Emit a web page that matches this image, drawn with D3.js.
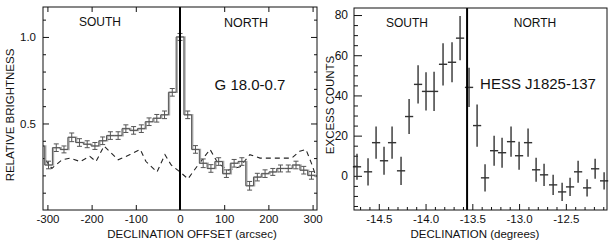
<!DOCTYPE html>
<html>
<head>
<meta charset="utf-8">
<script src="https://cdn.jsdelivr.net/npm/d3@7"></script>
<style>
  body { margin: 0; background: #fff; }
  svg text { font-family: "Liberation Sans", Arial, sans-serif; fill: #111; }
</style>
</head>
<body>
<svg id="chart"></svg>
<script>
// ---- left panel: G 18.0-0.7 radio profile ----
var binWidth = 17.5;
var offsets = [-315, -297.5, -280, -262.5, -245, -227.5, -210, -192.5, -175, -157.5, -140,
    -122.5, -105, -87.5, -70, -52.5, -35, -17.5, 0, 17.5, 35, 52.5, 70, 87.5, 105,
    122.5, 140, 157.5, 175, 192.5, 210, 227.5, 245, 262.5, 280, 297.5];
var brightness = [0.37, 0.26, 0.36, 0.35, 0.42, 0.39, 0.38, 0.37, 0.40, 0.43, 0.43,
    0.47, 0.46, 0.47, 0.51, 0.53, 0.55, 0.68, 1.00, 0.55, 0.35, 0.27, 0.24, 0.28, 0.21,
    0.27, 0.28, 0.14, 0.19, 0.21, 0.22, 0.24, 0.24, 0.26, 0.23, 0.20];
var brightErr = [0, 0.022, 0.022, 0.02, 0.025, 0.022, 0.02, 0.02, 0.022, 0.022, 0.022,
    0.022, 0.022, 0.022, 0.022, 0.022, 0.022, 0.022, 0.02, 0.022, 0.022, 0.025, 0.022, 0.022, 0.022,
    0.022, 0.022, 0.025, 0.022, 0.022, 0.02, 0.02, 0.02, 0.022, 0.022, 0.022];
var dashOffsets = [-305, -290, -267, -249, -226, -204, -190, -172, -140, -113, -90, -77,
    -52, -34, -20, 0, 18, 38, 68, 86, 109, 136, 158, 181, 215, 253, 271, 285, 299, 308];
var dashValues = [0.29, 0.24, 0.29, 0.30, 0.28, 0.31, 0.28, 0.37, 0.29, 0.32, 0.35, 0.28,
    0.22, 0.32, 0.26, 0.22, 0.18, 0.25, 0.35, 0.27, 0.23, 0.25, 0.32, 0.30, 0.30, 0.30,
    0.34, 0.35, 0.26, 0.19];
var leftXTicks = [-300, -200, -100, 0, 100, 200, 300];
var leftYTicks = [0.5, 1.0];
var leftYMinor = [0.1, 0.2, 0.3, 0.4, 0.6, 0.7, 0.8, 0.9, 1.1];

// ---- right panel: HESS J1825-137 excess counts ----
var declination = [-14.733, -14.615, -14.529, -14.444, -14.358, -14.262, -14.176, -14.080,
    -13.995, -13.909, -13.813, -13.717, -13.631, -13.535, -13.449, -13.364, -13.267, -13.182,
    -13.086, -13.000, -12.904, -12.818, -12.733, -12.636, -12.540, -12.455, -12.369, -12.273,
    -12.187, -12.091];
var counts = [4.5, 2, 16.5, 7.5, 16.5, 2.5, 29.5, 45.5, 42, 42, 55.5, 56.5, 68.5, 44,
    25, -1, 12.5, 11.5, 17, 10, 16.5, 3, 0.5, -4.5, -8, -5.5, 2, -6, 3.5, -2.5];
var countErr = [6.5, 6.75, 8, 7, 8, 7, 8.75, 9.5, 9.5, 9.75, 10.5, 10, 11, 9.75,
    10.5, 6.75, 7.5, 7.5, 7.5, 7, 7, 6, 5.5, 5, 4.5, 4.5, 5.5, 4.25, 5, 4.25];
var rightXTicks = [-14.5, -14.0, -13.5, -13.0, -12.5];
var rightXMinor = [-14.7, -14.6, -14.4, -14.3, -14.2, -14.1, -13.9, -13.8, -13.7, -13.6,
    -13.4, -13.3, -13.2, -13.1, -12.9, -12.8, -12.7, -12.6, -12.4, -12.3, -12.2, -12.1];
var rightYTicks = [0, 20, 40, 60, 80];
var rightYMinor = [-15, -10, -5, 5, 10, 15, 25, 30, 35, 45, 50, 55, 65, 70, 75];
var dividerDec = -13.556;

var svg = d3.select("#chart").attr("width", 616).attr("height", 242);

function frame(g, x, y) {
    g.append("rect")
        .attr("x", x.range()[0]).attr("y", y.range()[1])
        .attr("width", x.range()[1] - x.range()[0])
        .attr("height", y.range()[0] - y.range()[1])
        .attr("fill", "none").attr("stroke", "#111").attr("stroke-width", 1);
}
function cleanAxis(sel, size) {
    sel.select(".domain").remove();
    sel.selectAll("text").style("font-size", size + "px").attr("fill", "#111");
    sel.selectAll("line").attr("stroke", "#111");
}

// ============ LEFT ============
var x1 = d3.scaleLinear().domain([-310, 310]).range([43, 317]);
var y1 = d3.scaleLinear().domain([0, 1.173]).range([210, 7]);
var gl = svg.append("g");

gl.append("clipPath").attr("id", "clipL").append("rect")
    .attr("x", 43).attr("y", 7).attr("width", 274).attr("height", 203);

gl.append("g").attr("transform", "translate(0,210)")
    .call(d3.axisBottom(x1).tickValues(leftXTicks).tickFormat(function(d){ return String(d); })
        .tickSizeInner(-5).tickSizeOuter(0).tickPadding(5))
    .call(cleanAxis, 11.5);
gl.append("g").attr("transform", "translate(0,7)")
    .call(d3.axisTop(x1).tickValues(leftXTicks).tickFormat("").tickSizeInner(-5).tickSizeOuter(0))
    .call(cleanAxis, 11);
gl.append("g").attr("transform", "translate(43,0)")
    .call(d3.axisLeft(y1).tickValues(leftYTicks).tickFormat(d3.format(".1f"))
        .tickSizeInner(-6).tickSizeOuter(0).tickPadding(7))
    .call(cleanAxis, 11.5);
gl.append("g").attr("transform", "translate(43,0)")
    .call(d3.axisLeft(y1).tickValues(leftYMinor).tickFormat("").tickSizeInner(-3).tickSizeOuter(0))
    .call(cleanAxis, 11);
gl.append("g").attr("transform", "translate(317,0)")
    .call(d3.axisRight(y1).tickValues(leftYTicks).tickFormat("").tickSizeInner(-6).tickSizeOuter(0))
    .call(cleanAxis, 11);
gl.append("g").attr("transform", "translate(317,0)")
    .call(d3.axisRight(y1).tickValues(leftYMinor).tickFormat("").tickSizeInner(-3).tickSizeOuter(0))
    .call(cleanAxis, 11);

var plotL = gl.append("g").attr("clip-path", "url(#clipL)");

// dashed comparison profile
plotL.append("path")
    .datum(dashOffsets.map(function(d, i){ return [d, dashValues[i]]; }))
    .attr("fill", "none").attr("stroke", "#222").attr("stroke-width", 1.1)
    .attr("stroke-dasharray", "5,4")
    .attr("d", d3.line().x(function(d){ return x1(d[0]); }).y(function(d){ return y1(d[1]); }));

// histogram steps (grey double line look)
var steps = [];
offsets.forEach(function(c, i) {
    steps.push([c - binWidth / 2, brightness[i]]);
    steps.push([c + binWidth / 2, brightness[i]]);
});
var stepLine = d3.line().x(function(d){ return x1(d[0]); }).y(function(d){ return y1(d[1]); });
plotL.append("path").datum(steps)
    .attr("fill", "none").attr("stroke", "#aaa").attr("stroke-width", 1.6)
    .attr("transform", "translate(1,0)")
    .attr("d", stepLine);
plotL.append("path").datum(steps)
    .attr("fill", "none").attr("stroke", "#555").attr("stroke-width", 1)
    .attr("d", stepLine);

// error bars
var eb = plotL.selectAll(".eb").data(offsets.map(function(c, i){
        return {x: c, v: brightness[i], e: brightErr[i]}; })
        .filter(function(d){ return d.e > 0; }))
    .enter().append("g").attr("class", "eb")
    .attr("stroke", "#555").attr("stroke-width", 1);
eb.append("line")
    .attr("x1", function(d){ return x1(d.x); }).attr("x2", function(d){ return x1(d.x); })
    .attr("y1", function(d){ return y1(d.v - d.e); }).attr("y2", function(d){ return y1(d.v + d.e); });
eb.append("line")
    .attr("x1", function(d){ return x1(d.x) - 2.5; }).attr("x2", function(d){ return x1(d.x) + 2.5; })
    .attr("y1", function(d){ return y1(d.v - d.e); }).attr("y2", function(d){ return y1(d.v - d.e); });
eb.append("line")
    .attr("x1", function(d){ return x1(d.x) - 2.5; }).attr("x2", function(d){ return x1(d.x) + 2.5; })
    .attr("y1", function(d){ return y1(d.v + d.e); }).attr("y2", function(d){ return y1(d.v + d.e); });

// zero line
gl.append("line")
    .attr("x1", x1(0)).attr("x2", x1(0)).attr("y1", y1.range()[0]).attr("y2", y1.range()[1])
    .attr("stroke", "#000").attr("stroke-width", 2);
frame(gl, x1, y1);

gl.append("text").attr("x", 100).attr("y", 26).attr("text-anchor", "middle")
    .style("font-size", "12px").text("SOUTH");
gl.append("text").attr("x", 246).attr("y", 27).attr("text-anchor", "middle")
    .style("font-size", "12.5px").text("NORTH");
gl.append("text").attr("x", 250).attr("y", 90).attr("text-anchor", "middle")
    .style("font-size", "15px").text("G 18.0-0.7");
gl.append("text").attr("x", 192).attr("y", 238).attr("text-anchor", "middle")
    .style("font-size", "11.5px").text("DECLINATION OFFSET (arcsec)");
gl.append("text").attr("transform", "translate(14,115) rotate(-90)").attr("text-anchor", "middle")
    .style("font-size", "11.5px").text("RELATIVE BRIGHTNESS");

// ============ RIGHT ============
var x2 = d3.scaleLinear().domain([-14.765, -12.06]).range([354, 607]);
var y2 = d3.scaleLinear().domain([-17, 83.5]).range([210, 8]);
var gr = svg.append("g");

gr.append("g").attr("transform", "translate(0,210)")
    .call(d3.axisBottom(x2).tickValues(rightXTicks).tickFormat(function(d){ return d.toFixed(1); })
        .tickSizeInner(-6).tickSizeOuter(0).tickPadding(5))
    .call(cleanAxis, 11.5);
gr.append("g").attr("transform", "translate(0,210)")
    .call(d3.axisBottom(x2).tickValues(rightXMinor).tickFormat("").tickSizeInner(-3).tickSizeOuter(0))
    .call(cleanAxis, 11);
gr.append("g").attr("transform", "translate(354,0)")
    .call(d3.axisLeft(y2).tickValues(rightYTicks).tickFormat(function(d){ return String(d); })
        .tickSizeInner(-8).tickSizeOuter(0).tickPadding(6))
    .call(cleanAxis, 12);
gr.append("g").attr("transform", "translate(354,0)")
    .call(d3.axisLeft(y2).tickValues(rightYMinor).tickFormat("").tickSizeInner(-4).tickSizeOuter(0))
    .call(cleanAxis, 11);

var pts = gr.selectAll(".pt").data(declination.map(function(d, i){
        return {x: d, v: counts[i], e: countErr[i]}; }))
    .enter().append("g").attr("class", "pt")
    .attr("stroke", "#333").attr("stroke-width", 1.4);
pts.append("line")
    .attr("x1", function(d){ return x2(d.x); }).attr("x2", function(d){ return x2(d.x); })
    .attr("y1", function(d){ return y2(d.v - d.e); }).attr("y2", function(d){ return y2(d.v + d.e); });
pts.append("line")
    .attr("x1", function(d){ return x2(d.x - 0.044); }).attr("x2", function(d){ return x2(d.x + 0.044); })
    .attr("y1", function(d){ return y2(d.v); }).attr("y2", function(d){ return y2(d.v); });

gr.append("line")
    .attr("x1", x2(dividerDec)).attr("x2", x2(dividerDec)).attr("y1", y2.range()[0]).attr("y2", y2.range()[1])
    .attr("stroke", "#000").attr("stroke-width", 2);
frame(gr, x2, y2);

gr.append("text").attr("x", 407).attr("y", 27).attr("text-anchor", "middle")
    .style("font-size", "12px").text("SOUTH");
gr.append("text").attr("x", 535).attr("y", 27).attr("text-anchor", "middle")
    .style("font-size", "12px").text("NORTH");
gr.append("text").attr("x", 538).attr("y", 89).attr("text-anchor", "middle")
    .style("font-size", "15px").text("HESS J1825-137");
gr.append("text").attr("x", 475).attr("y", 238).attr("text-anchor", "middle")
    .style("font-size", "11.5px").text("DECLINATION (degrees)");
gr.append("text").attr("transform", "translate(334,105) rotate(-90)").attr("text-anchor", "middle")
    .style("font-size", "11.5px").text("EXCESS COUNTS");
</script>
</body>
</html>
